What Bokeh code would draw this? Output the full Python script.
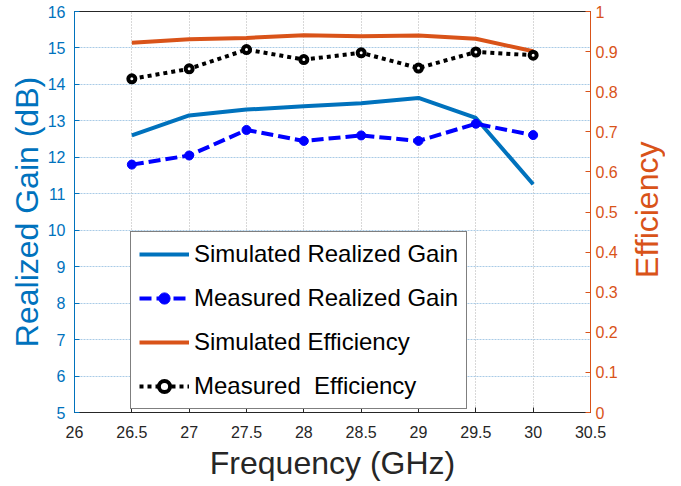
import math
from bokeh.plotting import figure
from bokeh.layouts import row
from bokeh.core.properties import value
from bokeh.models import ColumnDataSource, Range1d, LinearAxis, FixedTicker, Legend, LegendItem
from bokeh.embed import file_html
from bokeh.resources import INLINE

# ---- data ----
freq = [26.5, 27.0, 27.5, 28.0, 28.5, 29.0, 29.5, 30.0]
sim_gain = [12.60, 13.15, 13.31, 13.40, 13.48, 13.63, 13.08, 11.26]
meas_gain = [11.80, 12.05, 12.75, 12.45, 12.60, 12.45, 12.92, 12.61]
sim_eff = [0.922, 0.931, 0.934, 0.941, 0.938, 0.940, 0.932, 0.901]
meas_eff = [0.832, 0.857, 0.905, 0.880, 0.897, 0.859, 0.899, 0.891]

x_ticks = [26.0, 26.5, 27.0, 27.5, 28.0, 28.5, 29.0, 29.5, 30.0, 30.5]
x_tick_labels = ["26", "26.5", "27", "27.5", "28", "28.5", "29", "29.5", "30", "30.5"]
gain_ticks = [5, 6, 7, 8, 9, 10, 11, 12, 13, 14, 15, 16]
gain_tick_labels = ["5", "6", "7", "8", "9", "10", "11", "12", "13", "14", "15", "16"]
eff_ticks = [0.0, 0.1, 0.2, 0.3, 0.4, 0.5, 0.6, 0.7, 0.8, 0.9, 1.0]
eff_tick_labels = ["0", "0.1", "0.2", "0.3", "0.4", "0.5", "0.6", "0.7", "0.8", "0.9", "1"]

labels = ["Simulated Realized Gain", "Measured Realized Gain",
          "Simulated Efficiency", "Measured  Efficiency"]
x_title = "Frequency (GHz)"
left_title = "Realized Gain (dB)"
right_title = "Efficiency"

# ---- styles ----
FONT = "Liberation Sans"
C_SIM_GAIN = "#0072BD"
C_MEAS_GAIN = "#0000FF"
C_SIM_EFF = "#D95319"
C_MEAS_EFF = "#000000"
C_DARK = "#262626"

BORDER_L, BORDER_R, BORDER_T, BORDER_B = 74, 35, 11, 64
FRAME_W, FRAME_H = 516, 401
FIG_H = BORDER_T + FRAME_H + BORDER_B
SIDE_W = 40

src = ColumnDataSource(dict(freq=freq, sim_gain=sim_gain, meas_gain=meas_gain,
                            sim_eff=sim_eff, meas_eff=meas_eff))

p = figure(frame_width=FRAME_W, frame_height=FRAME_H,
           x_range=Range1d(26, 30.5), y_range=Range1d(5, 16),
           output_backend="svg", toolbar_location=None,
           min_border_left=BORDER_L, min_border_right=BORDER_R,
           min_border_top=BORDER_T, min_border_bottom=BORDER_B)
p.extra_y_ranges = {"eff": Range1d(0, 1)}
p.background_fill_color = "white"
p.border_fill_color = "white"
p.outline_line_color = C_DARK
p.outline_line_width = 1

# grids
p.xgrid.ticker = FixedTicker(ticks=x_ticks)
p.ygrid.ticker = FixedTicker(ticks=gain_ticks)
p.xgrid.grid_line_color = "#b0b0b0"
p.xgrid.grid_line_dash = "1 2"
p.xgrid.grid_line_width = 1
p.ygrid.grid_line_color = "#a9cbe6"
p.ygrid.grid_line_dash = "2 1"
p.ygrid.grid_line_width = 1

# bottom axis
xa = p.xaxis[0]
xa.ticker = FixedTicker(ticks=x_ticks)
xa.major_label_overrides = {t: l for t, l in zip(x_ticks, x_tick_labels)}
xa.axis_label = x_title
xa.axis_label_text_font = FONT
xa.axis_label_text_font_size = "32px"
xa.axis_label_text_font_style = "normal"
xa.axis_label_text_color = C_DARK
xa.axis_label_standoff = 4
xa.major_label_text_font = FONT
xa.major_label_text_font_size = "16px"
xa.major_label_text_color = C_DARK
xa.major_label_standoff = 13
xa.axis_line_color = C_DARK
xa.major_tick_in = 5
xa.major_tick_out = 0
xa.major_tick_line_color = C_DARK
xa.minor_tick_line_color = None

# left axis
ya = p.yaxis[0]
ya.ticker = FixedTicker(ticks=gain_ticks)
ya.major_label_overrides = {t: l for t, l in zip(gain_ticks, gain_tick_labels)}
ya.axis_label = left_title
ya.axis_label_text_font = FONT
ya.axis_label_text_font_size = "32px"
ya.axis_label_text_font_style = "normal"
ya.axis_label_text_color = C_SIM_GAIN
ya.axis_label_standoff = 0
ya.major_label_text_font = FONT
ya.major_label_text_font_size = "16px"
ya.major_label_text_color = C_SIM_GAIN
ya.major_label_standoff = 9
ya.axis_line_color = C_SIM_GAIN
ya.major_tick_in = 5
ya.major_tick_out = 0
ya.major_tick_line_color = C_SIM_GAIN
ya.minor_tick_line_color = None

# right axis (ticks)
ra = LinearAxis(y_range_name="eff", ticker=FixedTicker(ticks=eff_ticks))
ra.major_label_overrides = {t: l for t, l in zip(eff_ticks, eff_tick_labels)}
ra.major_label_text_font = FONT
ra.major_label_text_font_size = "16px"
ra.major_label_text_color = C_SIM_EFF
ra.major_label_standoff = 5
ra.axis_line_color = C_SIM_EFF
ra.major_tick_in = 5
ra.major_tick_out = 0
ra.major_tick_line_color = C_SIM_EFF
ra.minor_tick_line_color = None
p.add_layout(ra, "right")

# ---- series ----
r_sg = p.line("freq", "sim_gain", source=src, line_color=C_SIM_GAIN, line_width=4)
r_mg = p.line("freq", "meas_gain", source=src, line_color=C_MEAS_GAIN, line_width=4,
              line_dash="12 5")
r_mg_m = p.scatter("freq", "meas_gain", source=src, marker="circle", size=9,
                   fill_color=C_MEAS_GAIN, line_color=C_MEAS_GAIN)
r_se = p.line("freq", "sim_eff", source=src, y_range_name="eff", line_color=C_SIM_EFF,
              line_width=4)
r_me = p.line("freq", "meas_eff", source=src, y_range_name="eff", line_color=C_MEAS_EFF,
              line_width=4, line_dash="4 4")
r_me_m = p.scatter("freq", "meas_eff", source=src, y_range_name="eff", marker="circle",
                   size=7, fill_color="white", line_color=C_MEAS_EFF, line_width=4)

legend = Legend(items=[
    LegendItem(label=labels[0], renderers=[r_sg]),
    LegendItem(label=labels[1], renderers=[r_mg, r_mg_m]),
    LegendItem(label=labels[2], renderers=[r_se]),
    LegendItem(label=labels[3], renderers=[r_me, r_me_m]),
], location=(56, 3))
legend.label_text_font = FONT
legend.label_text_font_size = "24px"
legend.label_text_color = "#000000"
legend.glyph_width = 50
legend.glyph_height = 28
legend.label_height = 28
legend.label_standoff = 5
legend.spacing = 16
legend.padding = 8
legend.margin = 0
legend.border_line_color = "#000000"
legend.border_line_width = 1
legend.background_fill_color = "white"
legend.background_fill_alpha = 1.0
p.add_layout(legend, "center")

# ---- side strip holding the right-axis title (reads bottom-to-top) ----
q = figure(width=SIDE_W, height=FIG_H, x_range=Range1d(0, SIDE_W), y_range=Range1d(0, FIG_H),
           output_backend="svg", toolbar_location=None,
           min_border=0, min_border_left=0, min_border_right=0,
           min_border_top=0, min_border_bottom=0)
q.axis.visible = False
q.grid.visible = False
q.outline_line_color = None
q.background_fill_color = "white"
q.border_fill_color = "white"
q.text(x=[21], y=[FIG_H - (BORDER_T + FRAME_H / 2) - 28], text=[right_title],
       angle=math.pi / 2, text_align="center", text_baseline="middle",
       text_font=value(FONT), text_font_size="32px", text_color=C_SIM_EFF)

layout = row(p, q, spacing=0)
open("out.html", "w").write(file_html(layout, INLINE))
